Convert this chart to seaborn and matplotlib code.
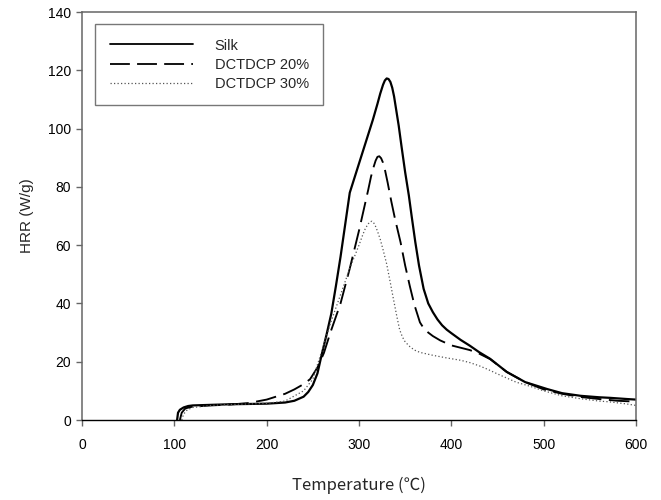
import numpy as np
import pandas as pd
import matplotlib
matplotlib.use("Agg")
import matplotlib.pyplot as plt
import seaborn as sns
from matplotlib.lines import Line2D

# ---- data ----
t_silk = [103, 104, 106, 110, 115, 120, 140, 160, 180, 200, 220, 230, 240, 245, 250, 255, 260, 265, 270,
          275, 280, 285, 290, 293, 297, 300, 305, 310, 315, 320, 323, 326, 328, 330, 332, 334, 336, 338,
          340, 343, 346, 350, 354, 357, 361, 365, 370, 375, 380, 385, 390, 395, 400, 410, 420, 430, 442,
          460, 480, 504, 520, 540, 560, 572, 590, 600]
v_silk = [0, 2.5, 3.5, 4.3, 4.8, 5.0, 5.2, 5.4, 5.5, 5.6, 6.0, 6.6, 8.0, 9.6, 12, 16, 23, 29.5, 36.5,
          46, 56, 67, 78, 81, 85, 88, 93, 98, 103, 108.5, 112, 115, 116.5, 117.2, 117, 116, 114, 111,
          107, 101, 94, 85, 77, 70, 61, 53, 45, 40, 37, 34.5, 32.5, 31, 29.8, 27.5, 25.5, 23.3, 21,
          16.5, 13, 10.6, 9.2, 8.3, 7.8, 7.6, 7.2, 7.0]

t_20 = [106, 108, 112, 120, 140, 160, 180, 200, 210, 220, 230, 240, 247, 255, 262, 269, 280, 290, 300,
        310, 313, 316, 318, 320, 322, 324, 326, 328, 331, 335, 339, 345, 350, 355, 360, 366, 370, 375,
        380, 388, 400, 410, 420, 430, 442, 460, 480, 500, 520, 540, 560, 580, 600]
v_20 = [0, 2.5, 4.0, 4.6, 5.0, 5.3, 5.8, 7.0, 8.0, 9.0, 10.5, 12.3, 14, 18, 23, 30, 40, 52, 65,
        79, 83.5, 87, 89, 90.3, 90.5, 89.8, 88.3, 86, 81.5, 75, 69, 61, 53, 46, 39.5, 33.5, 31.5, 30,
        28.8, 27.3, 25.6, 24.8, 24, 22.8, 20.9, 16.5, 13, 10.5, 9, 7.9, 7.2, 6.6, 6.3]

t_30 = [108, 110, 114, 120, 140, 160, 180, 200, 220, 240, 250, 260, 270, 280, 290, 300, 304, 307, 310,
        312, 314, 316, 318, 320, 323, 326, 330, 334, 337, 341, 344, 347, 350, 355, 360, 366, 380, 395,
        410, 420, 431, 440, 450, 470, 485, 500, 520, 540, 560, 572, 590, 600]
v_30 = [0, 2, 3.5, 4.3, 5.0, 5.3, 5.5, 5.7, 6.5, 10, 14, 24, 34, 43, 52, 60, 63.5, 65.8, 67.3,
        68, 68.2, 67.6, 66.4, 64.8, 62, 58.5, 53.5, 47, 42, 35.5, 31, 28.5, 26.8, 25.2, 24, 23.2, 22.2,
        21.3, 20.5, 19.7, 18.5, 17.3, 15.8, 13, 11.6, 10, 8.3, 7.3, 6.5, 6.2, 5.5, 5.0]

labels = ["Silk", "DCTDCP 20%", "DCTDCP 30%"]
x_ticks = [0, 100, 200, 300, 400, 500, 600]
y_ticks = [0, 20, 40, 60, 80, 100, 120, 140]

sns.set_theme(style="white")
plt.rcParams['font.family'] = ['Liberation Sans', 'DejaVu Sans']

fig = plt.figure(figsize=(6.61, 5.0), dpi=100)
ax = fig.add_axes([82/661, 1-420/500, (636-82)/661, (420-12)/500])

df_s = pd.DataFrame({"T": t_silk, "HRR": v_silk})
df_2 = pd.DataFrame({"T": t_20, "HRR": v_20})
df_3 = pd.DataFrame({"T": t_30, "HRR": v_30})

sns.lineplot(data=df_s, x="T", y="HRR", ax=ax, color="black", lw=1.6, sort=False)
sns.lineplot(data=df_2, x="T", y="HRR", ax=ax, color="black", lw=1.35, sort=False,
             linestyle=(0, (11, 4)))
sns.lineplot(data=df_3, x="T", y="HRR", ax=ax, color="#555555", lw=0.9, sort=False,
             linestyle=(0, (1, 1.8)))

ax.set_xlim(0, 600)
ax.set_ylim(0, 140)
ax.set_xticks(x_ticks)
ax.set_yticks(y_ticks)
ax.set_xticklabels([str(v) for v in x_ticks])
ax.set_yticklabels([str(v) for v in y_ticks])

for s in ["left", "right", "top"]:
    ax.spines[s].set_color("#666666")
    ax.spines[s].set_linewidth(1.1)
ax.spines["bottom"].set_color("black")
ax.spines["bottom"].set_linewidth(1.0)

ax.tick_params(axis="both", direction="out", length=4, width=1, color="#666666",
               labelsize=10, labelcolor="black")
ax.tick_params(axis="x", pad=9, bottom=True)
ax.tick_params(axis="y", pad=4, left=True)

ax.set_xlabel("Temperature (℃)", fontsize=12, family=["Noto Sans CJK KR", "DejaVu Sans"])
ax.set_ylabel("HRR (W/g)", fontsize=11)
ax.xaxis.set_label_coords(0.5, -0.14)
ax.yaxis.set_label_coords(-0.087, 0.5)

handles = [
    Line2D([], [], color="black", lw=1.3),
    Line2D([], [], color="black", lw=1.3, linestyle=(0, (11, 4))),
    Line2D([], [], color="#555555", lw=0.9, linestyle=(0, (1, 1.8))),
]
leg = ax.legend(handles, labels, loc="upper left", bbox_to_anchor=(13/554, 396/408),
                borderaxespad=0, handlelength=5.7, handletextpad=1.5, labelspacing=0.35,
                borderpad=1.0, fontsize=10.5, frameon=True, fancybox=False)
leg.get_frame().set_edgecolor("#555555")
leg.get_frame().set_linewidth(1.0)

fig.savefig("out.png", dpi=100)
